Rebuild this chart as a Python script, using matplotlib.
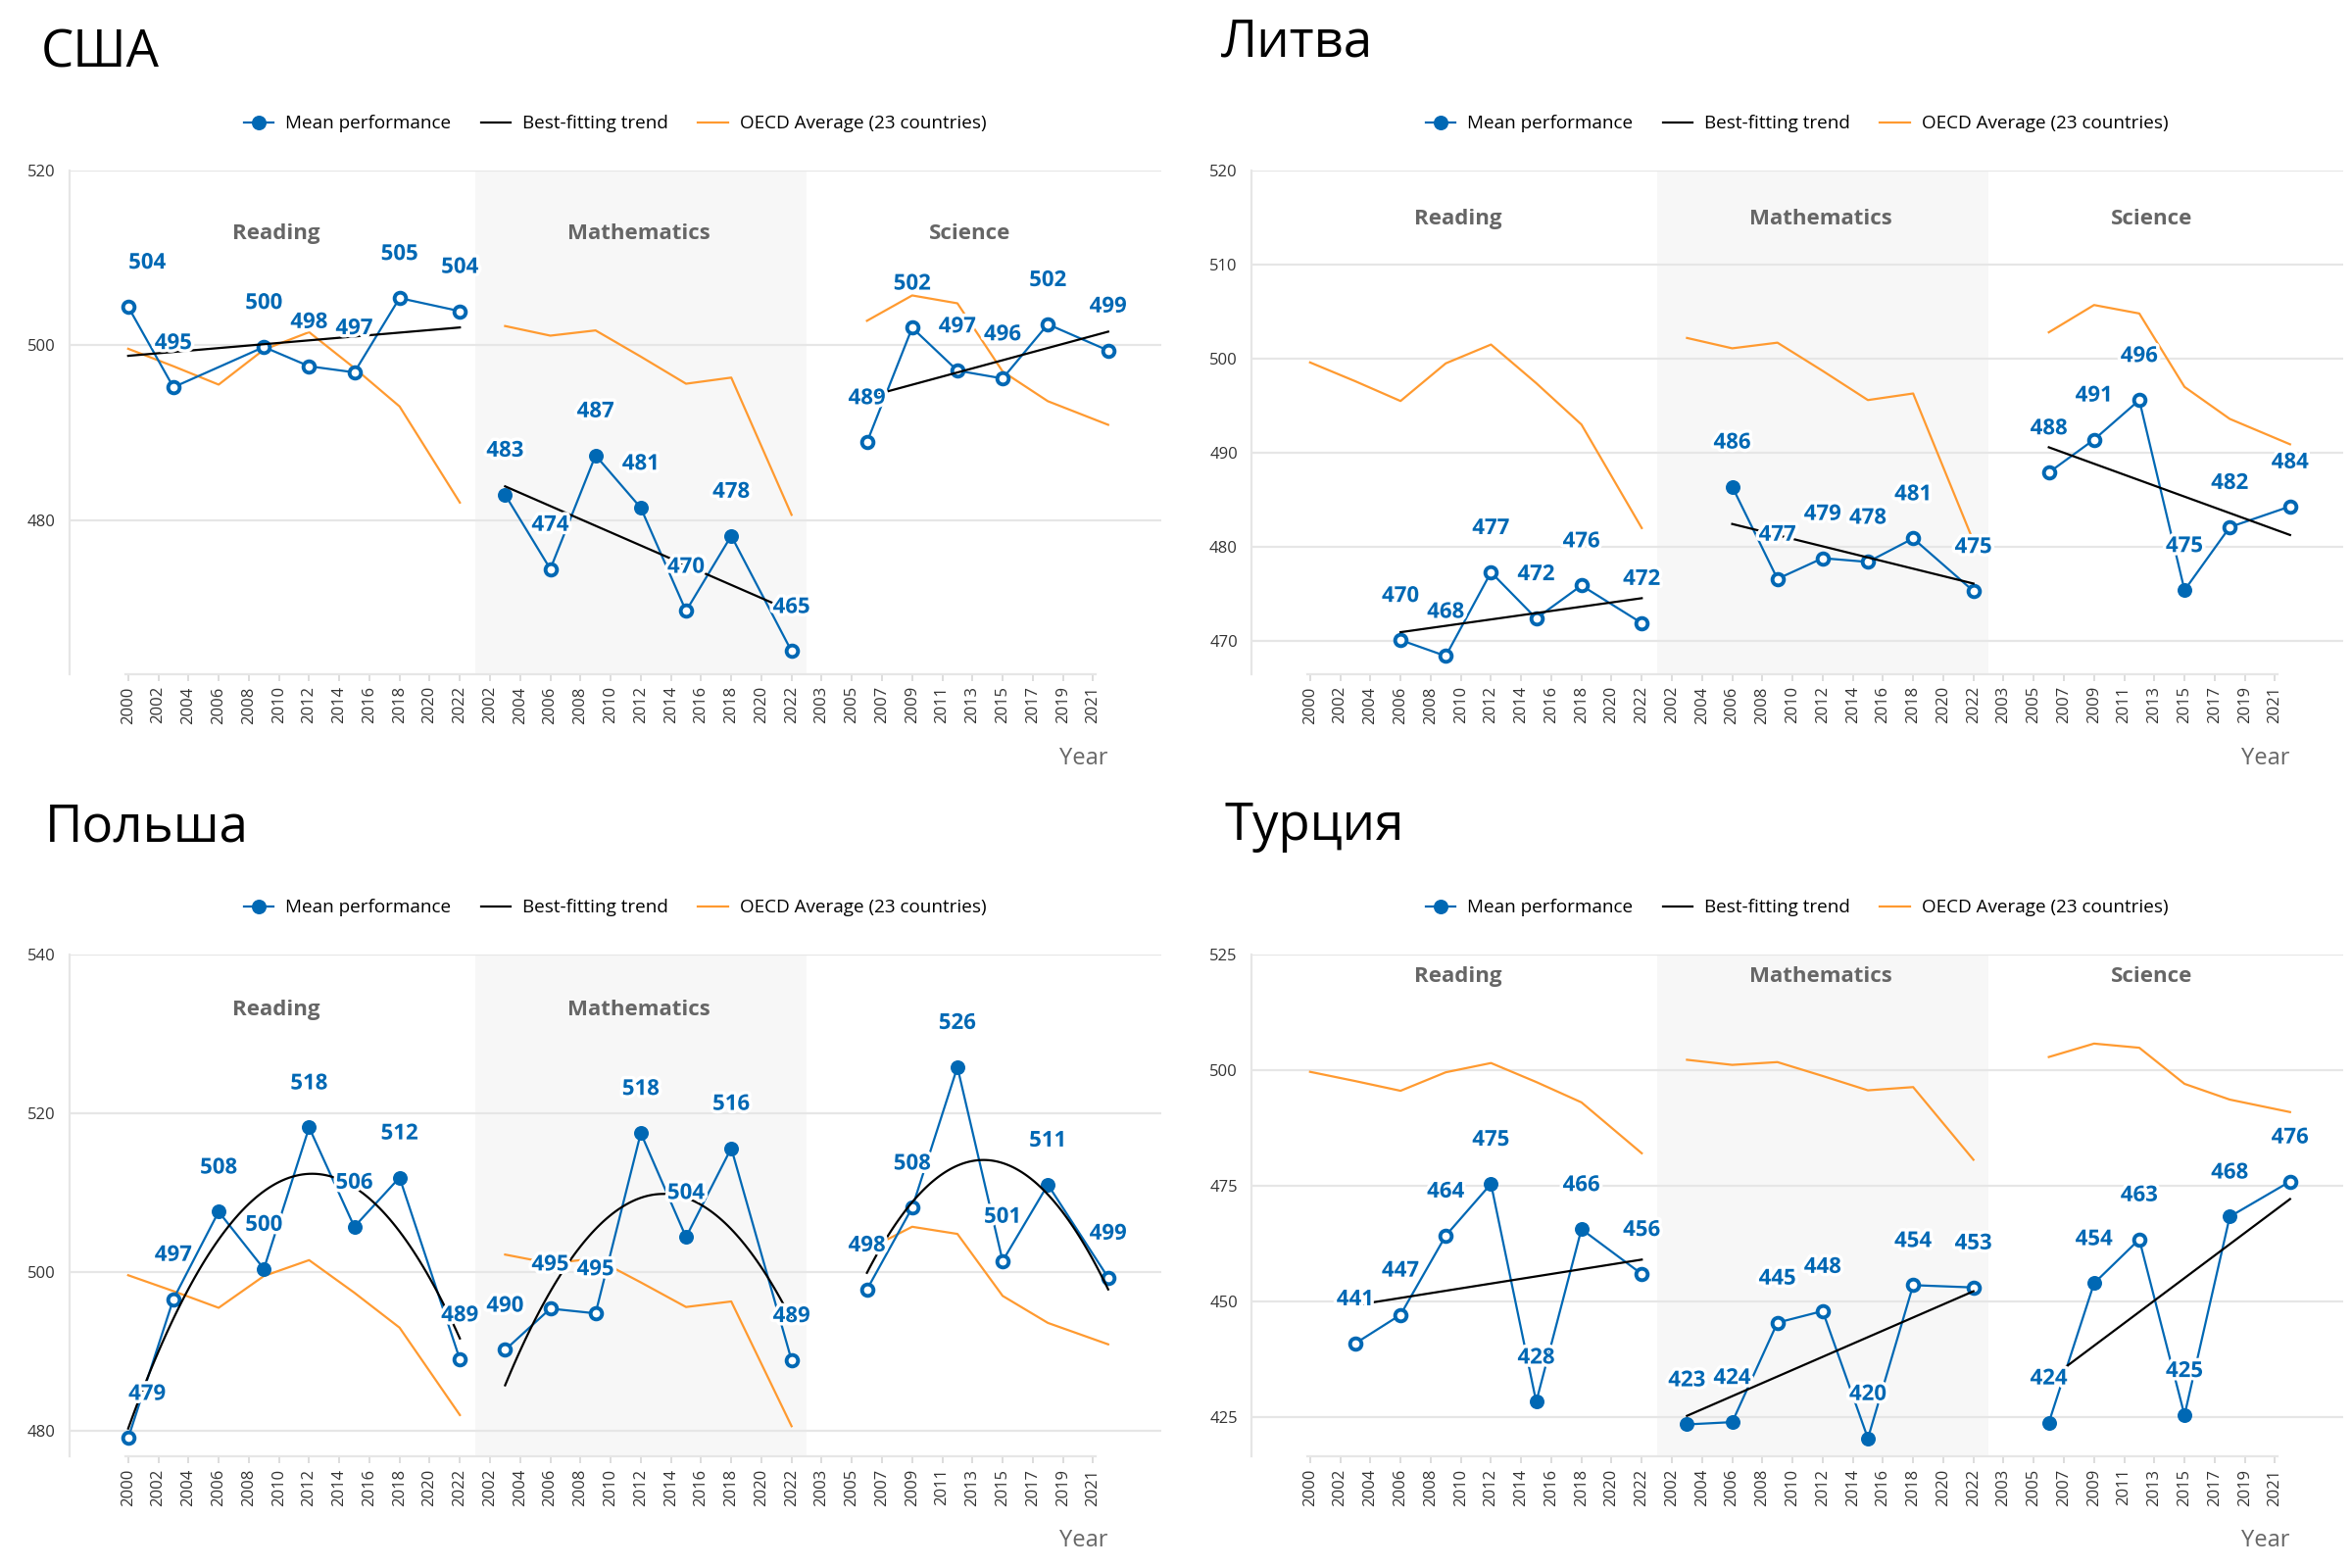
import numpy as np
import matplotlib
matplotlib.use('Agg')
import matplotlib.pyplot as plt
from matplotlib.lines import Line2D
import matplotlib.patheffects as pe
import matplotlib.transforms as mtransforms

plt.rcParams['font.family'] = ['Open Sans', 'DejaVu Sans']

# ---------------- data ----------------
countries = ['США', 'Литва', 'Польша', 'Турция']
subjects = ['Reading', 'Mathematics', 'Science']

reading_ticks = ['2000', '2002', '2004', '2006', '2008', '2010', '2012', '2014', '2016', '2018', '2020', '2022']
math_ticks = ['2002', '2004', '2006', '2008', '2010', '2012', '2014', '2016', '2018', '2020', '2022']
science_ticks = ['2003', '2005', '2007', '2009', '2011', '2013', '2015', '2017', '2019', '2021']

# OECD average (23 countries)
oecd_reading_years = [2000, 2003, 2006, 2009, 2012, 2015, 2018, 2022]
oecd_reading = [499.6, 497.6, 495.5, 499.5, 501.5, 497.4, 493.0, 482.0]
oecd_math_years = [2003, 2006, 2009, 2012, 2015, 2018, 2022]
oecd_math = [502.2, 501.1, 501.7, 498.7, 495.6, 496.3, 480.6]
oecd_science_years = [2006, 2009, 2012, 2015, 2018, 2022]
oecd_science = [502.8, 505.7, 504.8, 497.0, 493.6, 490.9]

# USA
usa_reading_years = [2000, 2003, 2009, 2012, 2015, 2018, 2022]
usa_reading = [504.4, 495.2, 499.8, 497.6, 496.9, 505.4, 503.9]
usa_reading_filled = [0, 0, 0, 0, 0, 0, 0]
usa_math_years = [2003, 2006, 2009, 2012, 2015, 2018, 2022]
usa_math = [482.9, 474.4, 487.4, 481.4, 469.6, 478.2, 465.0]
usa_math_filled = [1, 0, 1, 1, 0, 1, 0]
usa_science_years = [2006, 2009, 2012, 2015, 2018, 2022]
usa_science = [488.9, 502.0, 497.1, 496.2, 502.4, 499.4]
usa_science_filled = [0, 0, 0, 0, 0, 0]

# Lithuania
ltu_reading_years = [2006, 2009, 2012, 2015, 2018, 2022]
ltu_reading = [470.1, 468.4, 477.3, 472.4, 475.9, 471.9]
ltu_reading_filled = [0, 0, 0, 0, 0, 0]
ltu_math_years = [2006, 2009, 2012, 2015, 2018, 2022]
ltu_math = [486.4, 476.6, 478.8, 478.4, 480.9, 475.3]
ltu_math_filled = [1, 0, 0, 0, 0, 0]
ltu_science_years = [2006, 2009, 2012, 2015, 2018, 2022]
ltu_science = [487.9, 491.4, 495.6, 475.4, 482.1, 484.3]
ltu_science_filled = [0, 0, 0, 1, 0, 0]

# Poland
pol_reading_years = [2000, 2003, 2006, 2009, 2012, 2015, 2018, 2022]
pol_reading = [479.1, 496.6, 507.6, 500.4, 518.2, 505.7, 511.9, 489.0]
pol_reading_filled = [0, 0, 1, 1, 1, 1, 1, 0]
pol_math_years = [2003, 2006, 2009, 2012, 2015, 2018, 2022]
pol_math = [490.2, 495.4, 494.8, 517.5, 504.4, 515.6, 488.9]
pol_math_filled = [0, 0, 0, 1, 1, 1, 0]
pol_science_years = [2006, 2009, 2012, 2015, 2018, 2022]
pol_science = [497.8, 508.1, 525.8, 501.4, 511.0, 499.3]
pol_science_filled = [0, 0, 1, 0, 1, 0]

# Turkey
tur_reading_years = [2003, 2006, 2009, 2012, 2015, 2018, 2022]
tur_reading = [440.9, 447.1, 464.2, 475.4, 428.3, 465.6, 455.9]
tur_reading_filled = [0, 0, 0, 1, 1, 1, 0]
tur_math_years = [2003, 2006, 2009, 2012, 2015, 2018, 2022]
tur_math = [423.4, 423.9, 445.4, 447.9, 420.4, 453.5, 453.0]
tur_math_filled = [1, 1, 0, 0, 1, 0, 0]
tur_science_years = [2006, 2009, 2012, 2015, 2018, 2022]
tur_science = [423.8, 453.9, 463.4, 425.4, 468.3, 475.9]
tur_science_filled = [1, 1, 0, 1, 1, 0]

trend_degree = [1, 1, 2, 1]
y_limits = [(462.4, 520), (466.5, 520), (476.8, 540), (416.5, 525)]
y_ticks = [[480, 500, 520], [470, 480, 490, 500, 510, 520],
           [480, 500, 520, 540], [425, 450, 475, 500, 525]]
# subject headers shown per panel (the Polish panel shows no "Science" header)
shown_headers = [subjects, subjects, ['Reading', 'Mathematics'], subjects]

# ---------------- styling ----------------
BLUE = '#0068B4'
ORANGE = '#FF9A30'
SHADE = '#F7F7F7'
GRID = '#E6E6E6'

seg_start = {'Reading': 2000, 'Mathematics': 2002, 'Science': 2003}
seg_offset = {'Reading': 0, 'Mathematics': len(reading_ticks),
              'Science': len(reading_ticks) + len(math_ticks)}
all_ticks = reading_ticks + math_ticks + science_ticks


def pos(subject, years):
    return seg_offset[subject] + (np.asarray(years, dtype=float) - seg_start[subject]) / 2.0


data = [
    [(usa_reading_years, usa_reading, usa_reading_filled),
     (usa_math_years, usa_math, usa_math_filled),
     (usa_science_years, usa_science, usa_science_filled)],
    [(ltu_reading_years, ltu_reading, ltu_reading_filled),
     (ltu_math_years, ltu_math, ltu_math_filled),
     (ltu_science_years, ltu_science, ltu_science_filled)],
    [(pol_reading_years, pol_reading, pol_reading_filled),
     (pol_math_years, pol_math, pol_math_filled),
     (pol_science_years, pol_science, pol_science_filled)],
    [(tur_reading_years, tur_reading, tur_reading_filled),
     (tur_math_years, tur_math, tur_math_filled),
     (tur_science_years, tur_science, tur_science_filled)],
]
oecd = [(oecd_reading_years, oecd_reading), (oecd_math_years, oecd_math),
        (oecd_science_years, oecd_science)]

axes_rects = [
    [0.0295, 0.5702, 0.4641, 0.3211],
    [0.532, 0.5702, 0.4641, 0.3211],
    [0.0295, 0.0712, 0.4641, 0.3202],
    [0.532, 0.0712, 0.4641, 0.3202],
]
title_pos = [(0.0173, 0.957), (0.519, 0.964), (0.019, 0.4635), (0.5205, 0.4645)]
cat_label_y = [0.874, 0.904, 0.889, 0.955]
cat_label_x = {'Reading': 4.9, 'Mathematics': 16.95, 'Science': 27.9}

fig = plt.figure(figsize=(12, 8), dpi=200)
halo = [pe.withStroke(linewidth=2.5, foreground='white')]

for ci, country in enumerate(countries):
    ax = fig.add_axes(axes_rects[ci])
    ax.set_xlim(-1.95, 34.25)
    ax.set_ylim(*y_limits[ci])
    ax.set_yticks(y_ticks[ci])
    ax.grid(axis='y', color=GRID, lw=0.8, zorder=0)
    ax.set_axisbelow(True)
    ax.axvspan(11.5, 22.5, color=SHADE, zorder=0.5, lw=0)

    for spine in ['top', 'right']:
        ax.spines[spine].set_visible(False)
    ax.spines['left'].set_color(GRID)
    ax.spines['left'].set_linewidth(0.8)
    ax.spines['bottom'].set_color(GRID)
    ax.spines['bottom'].set_linewidth(0.8)
    ax.spines['bottom'].set_bounds(-0.1, 32.1)

    ax.set_xticks(np.arange(len(all_ticks)))
    ax.set_xticklabels(all_ticks, rotation=90, fontsize=6, color='#333333')
    ax.tick_params(axis='x', length=2.5, width=0.7, color='#DDDDDD', pad=2)
    ax.tick_params(axis='y', length=0, labelsize=6, labelcolor='#333333', pad=5)

    for si, subject in enumerate(subjects):
        years, vals, filled = data[ci][si]
        x = pos(subject, years)
        v = np.asarray(vals)
        f = np.asarray(filled, dtype=bool)
        # OECD average
        oy, ov = oecd[si]
        ax.plot(pos(subject, oy), ov, color=ORANGE, lw=0.8, zorder=2)
        # mean performance
        ax.plot(x, v, color=BLUE, lw=0.8, zorder=3)
        ax.plot(x[f], v[f], 'o', color=BLUE, ms=5.4, mew=0, zorder=3.5)
        ax.plot(x[~f], v[~f], 'o', mfc='white', mec=BLUE, ms=4.2, mew=1.4, zorder=3.5)
        # best-fitting trend
        yrs = np.asarray(years, dtype=float)
        coef = np.polyfit(yrs, v, trend_degree[ci])
        ty = np.linspace(yrs.min(), yrs.max(), 100)
        ax.plot(pos(subject, ty), np.polyval(coef, ty), color='black', lw=0.8, zorder=4)
        # labels
        for xi, vi in zip(x, v):
            dx = 7 if xi < 0.5 else 0
            ax.annotate(f"{int(np.floor(vi + 0.5))}", (xi, vi), xytext=(dx, 16),
                        textcoords='offset points', ha='center', va='center',
                        fontsize=8, fontweight='bold', color=BLUE, zorder=6,
                        path_effects=halo)
        # subject header
        if subject in shown_headers[ci]:
            ax.text(cat_label_x[subject], cat_label_y[ci], subject,
                    transform=mtransforms.blended_transform_factory(ax.transData, ax.transAxes),
                    ha='center', va='center', fontsize=8, fontweight='bold', color='#666666')

    ax.text(32.5, -0.168, 'Year',
            transform=mtransforms.blended_transform_factory(ax.transData, ax.transAxes),
            ha='right', va='center', fontsize=8.5, color='#666666')

    handles = [
        Line2D([0], [0], color=BLUE, lw=0.8, marker='o', ms=5.4, mew=0),
        Line2D([0], [0], color='black', lw=0.8),
        Line2D([0], [0], color=ORANGE, lw=0.8),
    ]
    ax.legend(handles, ['Mean performance', 'Best-fitting trend', 'OECD Average (23 countries)'],
              loc='center', bbox_to_anchor=(0.5, 1.093), ncol=3, frameon=False,
              fontsize=6.8, handlelength=1.6, columnspacing=1.6, handletextpad=0.65)

    fig.text(title_pos[ci][0], title_pos[ci][1], country, fontsize=19,
             ha='left', va='baseline', color='black')

fig.savefig('out.png', dpi=200, facecolor='white')
